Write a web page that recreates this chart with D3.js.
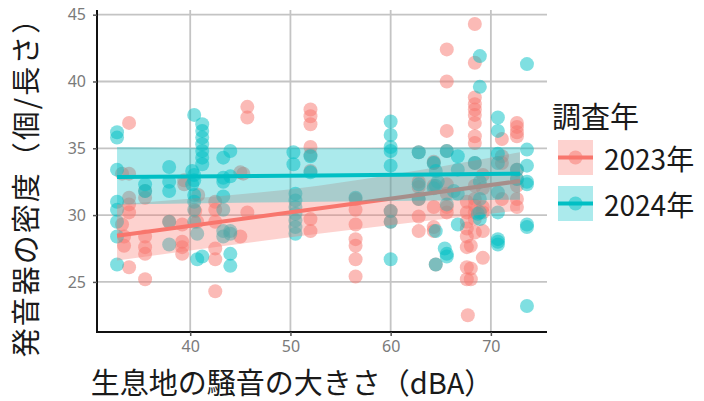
<!DOCTYPE html>
<html>
<head>
<meta charset="utf-8">
<script src="https://cdn.jsdelivr.net/npm/d3@7"></script>
<style>
  body { margin: 0; background: #fff; }
  svg { display: block; font-family: "Noto Sans CJK JP", "Noto Sans", sans-serif; }
</style>
</head>
<body>
<div id="app"></div>
<script>
const years = ['2023年', '2024年'];
const colors = ['#F8766D', '#00BFC4'];
const xTicks = [40, 50, 60, 70];
const yTicks = [25, 30, 35, 40, 45];

// [noise dBA, density] (jittered columns)
const points2023 = [
  [33.9, 36.9], [33.2, 33.1], [33.9, 33.1], [33.9, 31.3], [33.9, 30.8], [33.9, 30.2], [33.2, 29.3], [33.4, 27.7], [33.4, 28.4], [33.9, 26.1],
  [35.5, 31.8], [35.5, 31.3], [35.5, 28.4], [35.5, 27.6], [35.5, 27.1], [35.5, 25.2],
  [37.9, 29.5], [39.2, 29.3], [39.2, 28.0], [39.2, 27.6], [39.2, 27.1], [39.4, 32.3], [39.4, 32.6],
  [40.7, 29.5], [40.5, 30.3], [40.8, 31.5],
  [42.5, 29.5], [42.5, 27.5], [42.5, 26.7], [42.5, 24.3], [42.5, 31.0], [42.5, 30.4],
  [45.7, 38.1], [45.7, 37.3], [45.3, 33.1], [45.7, 30.2], [45.0, 28.4], [45.0, 33.2],
  [52.0, 37.9], [52.0, 37.4], [52.0, 36.8], [52.0, 35.1], [52.0, 34.5], [52.0, 33.3], [52.0, 29.7], [52.0, 28.8],
  [56.5, 31.2], [56.5, 30.4], [56.5, 29.3], [56.5, 28.2], [56.5, 27.7], [56.5, 26.7], [56.5, 25.4],
  [60.0, 30.3], [60.0, 29.5],
  [62.8, 34.7], [62.8, 32.5], [62.8, 32.1], [62.8, 29.9], [62.8, 28.8], [62.8, 31.2],
  [64.3, 34.0], [64.3, 33.9], [64.3, 32.2], [64.3, 30.6], [64.3, 29.1], [64.3, 28.8], [64.5, 26.3],
  [65.6, 42.4], [65.6, 40.0], [65.6, 36.3], [65.6, 34.8], [65.6, 32.3], [65.6, 31.6], [65.6, 30.6], [65.6, 30.2],
  [67.6, 31.0], [67.6, 30.2], [67.6, 29.5], [67.6, 29.0], [67.6, 28.4], [67.6, 27.6], [67.6, 26.1], [67.6, 25.2], [67.7, 22.5],
  [68.4, 44.3], [68.4, 41.4], [68.4, 38.8], [68.4, 38.3], [68.4, 37.9], [68.4, 37.5], [68.4, 36.9], [68.4, 35.9], [68.4, 35.4],
  [68.4, 33.9], [68.4, 32.2], [68.4, 31.2], [68.4, 30.7], [68.4, 30.2], [68.4, 29.7], [68.4, 28.7], [68.0, 27.7], [68.0, 26.0], [68.0, 25.2],
  [69.2, 30.6], [69.2, 30.2], [69.2, 28.8], [69.2, 26.8], [69.2, 32.0], [69.2, 33.0],
  [71.1, 35.7], [71.1, 34.4], [71.1, 33.9], [71.1, 31.2],
  [72.6, 36.9], [72.6, 36.6], [72.6, 36.2], [72.6, 35.9], [72.6, 33.4], [72.6, 32.7], [72.6, 32.2], [72.6, 31.2], [72.6, 30.6]
];

const points2024 = [
  [32.7, 36.2], [32.7, 35.8], [32.7, 33.4], [32.7, 31.0], [32.7, 30.4], [32.7, 29.5], [32.7, 28.4], [32.7, 26.3],
  [35.5, 31.8], [35.5, 32.3],
  [37.9, 33.6], [37.9, 32.5], [37.9, 31.8], [37.9, 29.5], [37.9, 27.8],
  [40.4, 37.5], [40.2, 33.3], [40.2, 32.3], [40.7, 26.7], [41.2, 36.8], [41.2, 36.3], [41.2, 35.8], [41.2, 35.3], [41.2, 34.8],
  [41.2, 34.3], [41.2, 33.8], [40.4, 33.0], [40.4, 32.6], [40.4, 31.5], [40.4, 31.0], [40.4, 30.4], [40.4, 29.5], [40.7, 28.6], [41.2, 26.9],
  [43.3, 34.3], [44.0, 34.8], [43.3, 32.8], [43.3, 32.5], [44.0, 32.9], [43.3, 31.4], [43.3, 30.4], [43.3, 28.8], [44.0, 28.8],
  [43.3, 28.4], [44.0, 28.6], [44.0, 27.1], [44.0, 26.2],
  [50.3, 34.7], [50.3, 33.8], [50.5, 31.6], [50.5, 31.1], [50.5, 30.6], [50.5, 30.1], [50.5, 29.6], [50.5, 29.1], [50.5, 28.6],
  [52.0, 34.4], [52.0, 33.2], [56.5, 31.3],
  [60.0, 37.0], [60.0, 36.0], [60.0, 35.1], [60.0, 34.8], [60.0, 33.7], [60.0, 30.3], [60.0, 29.5], [60.0, 26.7],
  [62.8, 34.7], [62.8, 32.3], [62.8, 31.2],
  [64.3, 33.9], [64.5, 33.3], [64.7, 32.5], [64.5, 32.2], [65.6, 30.8], [64.3, 32.0], [64.5, 28.8], [65.4, 27.5], [65.6, 27.1],
  [65.6, 26.9], [64.5, 26.3], [65.6, 34.8],
  [66.7, 34.4], [66.7, 33.4], [66.3, 31.8], [66.7, 31.6], [66.7, 29.3],
  [68.7, 30.1], [68.9, 41.9], [68.9, 39.6], [68.9, 32.5], [68.9, 31.2], [68.9, 30.2], [68.9, 29.7], [68.4, 33.9],
  [70.7, 37.3], [70.7, 36.3], [70.7, 34.6], [70.7, 33.9], [70.7, 31.7], [70.7, 30.2], [70.7, 28.2], [70.7, 27.8], [70.7, 28.0],
  [72.6, 33.4], [72.6, 32.7],
  [73.6, 41.3], [73.6, 34.9], [73.6, 33.7], [73.6, 32.5], [73.6, 32.3], [73.6, 29.3], [73.6, 29.1], [73.6, 23.2]
];

// fitted lines and confidence bands
const fitX2023 = [32.7, 52.8, 72.9];
const fitY2023 = [28.45, 30.5, 32.55];
const fitLo2023 = [26.6, 28.6, 30.35];
const fitHi2023 = [30.8, 32.2, 34.7];

const fitX2024 = [32.7, 52.8, 72.9];
const fitY2024 = [32.85, 32.97, 33.1];
const fitLo2024 = [30.8, 31.0, 31.15];
const fitHi2024 = [35.1, 35.0, 35.1];

const w = 704, h = 401;

const svg = d3.select('#app')
  .append('svg')
  .attr('width', w)
  .attr('height', h);

const xScale = d3.scaleLinear().domain([30.7, 75.6]).range([97, 547]);
const yScale = d3.scaleLinear().domain([21.25, 45.35]).range([332, 10]);

/////////GRID//////////
svg.append('g')
  .selectAll('line')
  .data(xTicks)
  .join('line')
  .attr('x1', (d) => xScale(d)).attr('x2', (d) => xScale(d))
  .attr('y1', 10).attr('y2', 332)
  .attr('stroke', '#c4c4c4').attr('stroke-width', 1.8);

svg.append('g')
  .selectAll('line')
  .data(yTicks)
  .join('line')
  .attr('x1', 97).attr('x2', 547)
  .attr('y1', (d) => yScale(d)).attr('y2', (d) => yScale(d))
  .attr('stroke', '#c4c4c4').attr('stroke-width', 1.8);

/////////POINTS//////////
const series = [
  { pts: points2023, fx: fitX2023, fy: fitY2023, lo: fitLo2023, hi: fitHi2023, color: colors[0] },
  { pts: points2024, fx: fitX2024, fy: fitY2024, lo: fitLo2024, hi: fitHi2024, color: colors[1] }
];

series.forEach((s) => {
  svg.append('g')
    .selectAll('circle')
    .data(s.pts)
    .join('circle')
    .attr('cx', (d) => xScale(d[0]))
    .attr('cy', (d) => yScale(d[1]))
    .attr('r', 7)
    .attr('fill', s.color)
    .attr('fill-opacity', 0.5);
});

/////////SMOOTH//////////
series.forEach((s) => {
  const band = s.fx.map((v, i) => ({ x: v, lo: s.lo[i], hi: s.hi[i], y: s.fy[i] }));
  const area = d3.area()
    .x((d) => xScale(d.x))
    .y0((d) => yScale(d.lo))
    .y1((d) => yScale(d.hi))
    .curve(d3.curveNatural);
  svg.append('path')
    .datum(band)
    .attr('d', area)
    .attr('fill', s.color)
    .attr('fill-opacity', 0.33);
  const line = d3.line()
    .x((d) => xScale(d.x))
    .y((d) => yScale(d.y));
  svg.append('path')
    .datum(band)
    .attr('d', line)
    .attr('fill', 'none')
    .attr('stroke', s.color)
    .attr('stroke-width', 4);
});

/////////AXES//////////
const xAxis = svg.append('g')
  .attr('transform', 'translate(0,332)')
  .call(d3.axisBottom(xScale).tickValues(xTicks).tickSize(4).tickPadding(5));
const yAxis = svg.append('g')
  .attr('transform', 'translate(97,0)')
  .call(d3.axisLeft(yScale).tickValues(yTicks).tickSize(4).tickPadding(7));

[xAxis, yAxis].forEach((a) => {
  a.select('.domain').attr('stroke', '#111').attr('stroke-width', 2);
  a.selectAll('.tick line').attr('stroke', '#555').attr('stroke-width', 1.5);
  a.selectAll('.tick text')
    .attr('fill', '#7a7a7a')
    .style('font-size', '16px')
    .style('font-family', '"Noto Sans", sans-serif');
});
xAxis.select('.domain').attr('d', 'M96,0H547');
yAxis.select('.domain').attr('d', 'M0,10V333');

svg.append('text')
  .attr('x', 292)
  .attr('y', 381)
  .attr('dominant-baseline', 'central')
  .style('text-anchor', 'middle')
  .style('font-size', '29px')
  .attr('fill', '#1a1a1a')
  .text('生息地の騒音の大きさ（dBA）');

svg.append('text')
  .attr('transform', 'translate(24,180) rotate(-90)')
  .attr('dominant-baseline', 'central')
  .style('text-anchor', 'middle')
  .style('font-size', '29px')
  .style('letter-spacing', '2px')
  .attr('fill', '#1a1a1a')
  .text('発音器の密度（個/長さ）');

//////////LEGEND//////////
const legend = svg.append('g');

legend.append('text')
  .attr('x', 552)
  .attr('y', 115)
  .attr('dominant-baseline', 'central')
  .style('font-size', '29px')
  .attr('fill', '#1a1a1a')
  .text('調査年');

const keys = legend.selectAll('g.key')
  .data(years)
  .join('g')
  .attr('class', 'key')
  .attr('transform', (d, i) => 'translate(558,' + (140 + i * 46) + ')');

keys.append('rect')
  .attr('width', 35).attr('height', 35)
  .attr('fill', (d, i) => colors[i])
  .attr('fill-opacity', 0.33);
keys.append('circle')
  .attr('cx', 17.5).attr('cy', 17.5).attr('r', 7)
  .attr('fill', (d, i) => colors[i])
  .attr('fill-opacity', 0.5);
keys.append('line')
  .attr('x1', 0).attr('x2', 35)
  .attr('y1', 17.5).attr('y2', 17.5)
  .attr('stroke', (d, i) => colors[i])
  .attr('stroke-width', 4);
keys.append('text')
  .attr('x', 46)
  .attr('y', 18)
  .attr('dominant-baseline', 'central')
  .style('font-size', '28px')
  .attr('fill', '#1a1a1a')
  .text((d) => d);
</script>
</body>
</html>
